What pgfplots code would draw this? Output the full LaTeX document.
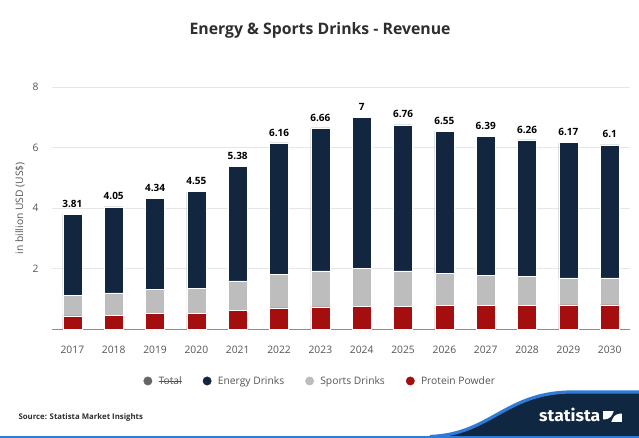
\documentclass[border=0pt]{standalone}
\usepackage{pgfplots}
\pgfplotsset{compat=1.18}
\usepackage{pgfplotstable}
\usepackage{fontspec}
\setmainfont{Open Sans}
\newfontfamily\logofont{Fira Sans}

\definecolor{energy}{HTML}{12263F}
\definecolor{sports}{HTML}{BDBDBD}
\definecolor{protein}{HTML}{A50E0E}
\definecolor{totalgray}{HTML}{666666}
\definecolor{textgray}{HTML}{555555}
\definecolor{titlegray}{HTML}{2E2E2E}
\definecolor{gridgray}{HTML}{E6E6E6}
\definecolor{axisgray}{HTML}{8C8C8C}
\definecolor{footnavy}{HTML}{0F2740}
\definecolor{footblue}{HTML}{2F7BD8}

\newlength\strikelen
\newcommand\strikeout[1]{\settowidth{\strikelen}{#1}\rlap{\rule[0.3em]{\strikelen}{0.5pt}}#1}

% revenue in billion USD, stacked from the bottom
\pgfplotstableread{
x year protein sports energy total
0  2017 0.44 0.68 2.69 3.81
1  2018 0.47 0.73 2.85 4.05
2  2019 0.53 0.79 3.02 4.34
3  2020 0.53 0.83 3.19 4.55
4  2021 0.62 0.98 3.78 5.38
5  2022 0.71 1.11 4.34 6.16
6  2023 0.74 1.19 4.73 6.66
7  2024 0.76 1.26 4.98 7
8  2025 0.76 1.17 4.83 6.76
9  2026 0.78 1.06 4.71 6.55
10 2027 0.78 1.00 4.61 6.39
11 2028 0.78 0.97 4.51 6.26
12 2029 0.81 0.89 4.47 6.17
13 2030 0.81 0.89 4.40 6.1
}\revenue

\pgfplotsset{
  plotarea/.style={
    at={(51.7pt,108.7pt)}, anchor=south west, scale only axis,
    width=578.7pt, height=242pt,
    xmin=-0.5, xmax=13.5, ymin=0, ymax=8,
  },
}

\begin{document}
\begin{tikzpicture}[x=1pt, y=1pt]
\fill[white] (0,0) rectangle (639,438);
\path[use as bounding box] (0,0) rectangle (639,438);

% title
\node[font=\bfseries\fontsize{15.8}{18}\selectfont, text=titlegray] at (320,408) {Energy \& Sports Drinks - Revenue};

\begin{axis}[
  plotarea,
  ybar stacked, bar width=19pt,
  xtick={0,...,13},
  xticklabels={2017,2018,2019,2020,2021,2022,2023,2024,2025,2026,2027,2028,2029,2030},
  ytick={2,4,6,8},
  ymajorgrids, grid style={draw=gridgray, line width=0.7pt},
  major tick length=0pt,
  axis x line*=bottom, axis y line*=left,
  y axis line style={draw=none},
  x axis line style={draw=axisgray, line width=1.3pt, -},
  /pgf/number format/assume math mode=true,
  tick label style={font=\fontsize{10.3}{12}\selectfont, text=textgray},
  xticklabel style={anchor=base, yshift=-24.5pt},
  yticklabel style={anchor=east, inner sep=0pt, xshift=-13pt},
  ylabel={in billion USD (US\$)},
  every axis y label/.style={at={(axis description cs:-0.0548,0.5)}, rotate=90, anchor=center,
    font=\fontsize{10.3}{12}\selectfont, text=textgray},
  legend style={at={(axis description cs:0.464,-0.2136)}, anchor=center, draw=none, fill=none,
    font=\fontsize{10.3}{12}\selectfont, text=textgray,
    /tikz/every even column/.append style={column sep=19pt}},
  legend columns=4,
  legend cell align=left,
]
\addplot[fill=protein, draw=white, line width=0.5pt, forget plot] table[x=x, y=protein] {\revenue};
\addplot[fill=sports, draw=white, line width=0.5pt, forget plot] table[x=x, y=sports] {\revenue};
\addplot[fill=energy, draw=white, line width=0.5pt, forget plot] table[x=x, y=energy] {\revenue};

\addlegendimage{legend image code/.code={\fill[totalgray] (0pt,0pt) circle (4.2pt); \path (8.5pt,0pt);}}
\addlegendentry{\strikeout{Total}}
\addlegendimage{legend image code/.code={\fill[energy] (0pt,0pt) circle (4.2pt); \path (8.5pt,0pt);}}
\addlegendentry{Energy Drinks}
\addlegendimage{legend image code/.code={\fill[sports] (0pt,0pt) circle (4.2pt); \path (8.5pt,0pt);}}
\addlegendentry{Sports Drinks}
\addlegendimage{legend image code/.code={\fill[protein] (0pt,0pt) circle (4.2pt); \path (8.5pt,0pt);}}
\addlegendentry{Protein Powder}
\end{axis}

% total labels above each bar, on a matching overlay axis
\begin{axis}[plotarea, hide axis, /pgf/number format/assume math mode=true]
\addplot[draw=none, mark=none,
  point meta=explicit,
  nodes near coords={\pgfmathprintnumber[fixed, precision=2]{\pgfplotspointmeta}},
  every node near coord/.append style={anchor=south, inner sep=0pt, yshift=6.5pt,
    font=\bfseries\fontsize{10}{12}\selectfont, text=black}]
  table[x=x, y=total, meta=total] {\revenue};
\end{axis}

% footer
\node[anchor=west, font=\bfseries\fontsize{7.8}{9}\selectfont, text=titlegray] at (15,21) {Source: Statista Market Insights};
\fill[footblue] (0,0) rectangle (639,2.2);
\fill[footnavy] (440,2) .. controls (490,4) and (505,45) .. (570,46) -- (639,46) -- (639,2) -- cycle;
\draw[footblue, line width=3.2pt] (430,1.5) .. controls (490,3.5) and (505,45) .. (570,46) -- (640,46);
\node[anchor=base west, inner sep=0pt, text=white] at (539,16.3)
  {\resizebox{61pt}{13.4pt}{\logofont\bfseries statista}};
\fill[white] (603,15.5) rectangle (622,27.3);
\fill[footnavy] (603,15.5) -- (611,15.5) .. controls (613,21) and (614,24.5) .. (622,24.5) -- (622,27.3) -- (614,27.3) .. controls (612,22) and (611,18.5) .. (603,18.5) -- cycle;
\end{tikzpicture}
\end{document}
